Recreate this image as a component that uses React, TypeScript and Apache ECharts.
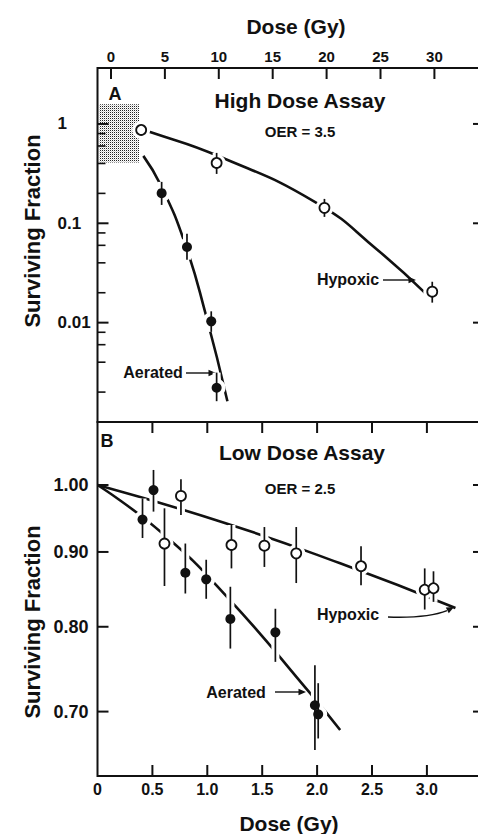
import React, { useEffect, useRef } from "react";
import * as echarts from "echarts";

// ---- Panel A: high dose assay ----
const hypoxicHighDose = [2.8, 9.8, 19.8, 29.8];
const hypoxicHighSF = [0.87, 0.405, 0.143, 0.0205];
const hypoxicHighLo = [null, 0.314, 0.116, 0.0159];
const hypoxicHighHi = [null, 0.511, 0.176, 0.0258];

const aeratedHighDose = [4.7, 7.05, 9.3, 9.8];
const aeratedHighSF = [0.201, 0.0577, 0.0103, 0.00221];
const aeratedHighLo = [0.153, 0.043, 0.00807, 0.00162];
const aeratedHighHi = [0.261, 0.0784, 0.013, 0.00314];

// fitted survival curves
const hypoxicHighFitDose = [2.8, 3.7, 10.0, 19.1, 24.7, 29.2];
const hypoxicHighFitSF = [0.87, 0.825, 0.473, 0.16, 0.0542, 0.0196];
const aeratedHighFitDose = [3.0, 4.6, 6.8, 8.8, 10.8];
const aeratedHighFitSF = [0.477, 0.244, 0.0656, 0.012, 0.00162];

// region covered by the low dose assay
const lowAssayBoxDose = [-1.1, 2.6];
const lowAssayBoxSF = [0.408, 1.58];

// ---- Panel B: low dose assay ----
const aeratedLowDose = [0.41, 0.51, 0.8, 0.99, 1.21, 1.62, 1.98, 2.01];
const aeratedLowSF = [0.947, 0.992, 0.871, 0.862, 0.81, 0.793, 0.707, 0.697];
const aeratedLowLo = [0.92, 0.959, 0.843, 0.836, 0.773, 0.757, 0.659, 0.671];
const aeratedLowHi = [0.979, 1.024, 0.912, 0.889, 0.852, 0.823, 0.753, 0.732];

const hypoxicLowDose = [0.61, 0.76, 1.22, 1.52, 1.81, 2.4, 2.98, 3.06];
const hypoxicLowSF = [0.912, 0.983, 0.91, 0.909, 0.898, 0.88, 0.848, 0.85];
const hypoxicLowLo = [0.853, 0.954, 0.877, 0.879, 0.857, 0.854, 0.822, 0.832];
const hypoxicLowHi = [0.964, 1.009, 0.939, 0.936, 0.936, 0.908, 0.877, 0.873];

const hypoxicLowFitDose = [0, 1.16, 2.21, 3.26];
const hypoxicLowFitSF = [1.0, 0.942, 0.884, 0.824];
const aeratedLowFitDose = [0, 0.59, 1.19, 1.94, 2.21];
const aeratedLowFitSF = [1.0, 0.927, 0.837, 0.72, 0.68];

// ---- axes ----
const highDoseRange = [-1.25, 34.6];
const highDoseTicks = [0, 5, 10, 15, 20, 25, 30];
const highSFRange = [0.001, 3.656];
const highSFTicks = [1, 0.1, 0.01];
const highSFTickLabels = ["1", "0.1", "0.01"];
const highSFMinorTicks = [0.8, 0.6, 0.4, 0.2, 0.08, 0.06, 0.04, 0.02, 0.008, 0.006, 0.004, 0.002];

const lowDoseRange = [0, 3.52];
const lowDoseTicks = [0, 0.5, 1, 1.5, 2, 2.5, 3];
const lowDoseTickLabels = ["0", "0.5", "1.0", "1.5", "2.0", "2.5", "3.0"];
const lowSFRange = [0.6325, 1.1043];
const lowSFTicks = [1.0, 0.9, 0.8, 0.7];
const lowSFTickLabels = ["1.00", "0.90", "0.80", "0.70"];

const FONT = '"Liberation Sans", Arial, Helvetica, sans-serif';
const INK = "#111";

// surviving fraction is plotted on log10 scales
const lg = (v: number) => Math.log10(v);

const pickLabel = (ticks: number[], labels: string[], map: (v: number) => number) => (value: number) => {
  const i = ticks.findIndex((t) => Math.abs(map(t) - value) < 1e-6);
  return i >= 0 ? labels[i] : "";
};

const points = (xs: number[], ys: number[]) => xs.map((x, i) => [x, lg(ys[i])]);
const bars = (xs: number[], lo: (number | null)[], hi: (number | null)[]) =>
  xs
    .map((x, i) => (lo[i] == null ? null : [x, lg(lo[i] as number), lg(hi[i] as number)]))
    .filter((d) => d !== null);

function axis(extra: any, label: any) {
  return {
    type: "value",
    axisLine: { show: false, onZero: false },
    axisTick: { show: false },
    splitLine: { show: false },
    axisLabel: { color: INK, fontFamily: FONT, fontWeight: "bold", ...label },
    ...extra,
  };
}

// inward tick marks along one edge of a panel, placed through the axis scales
function tickSeries(
  xi: number,
  yi: number,
  side: "left" | "right" | "top" | "bottom",
  data: number[][],
  len: number,
  width: number
) {
  return {
    type: "custom",
    xAxisIndex: xi,
    yAxisIndex: yi,
    z: 7,
    silent: true,
    clip: false,
    data,
    renderItem: (params: any, api: any) => {
      const cs = params.coordSys;
      const p = api.coord([api.value(0), api.value(1)]);
      const h = width / 2;
      let shape;
      if (side === "left") shape = { x: cs.x, y: p[1] - h, width: len, height: width };
      else if (side === "right") shape = { x: cs.x + cs.width - len, y: p[1] - h, width: len, height: width };
      else if (side === "top") shape = { x: p[0] - h, y: cs.y, width, height: len };
      else shape = { x: p[0] - h, y: cs.y + cs.height - len, width, height: len };
      return { type: "rect", shape, style: { fill: INK } };
    },
  };
}

function barSeries(xi: number, yi: number, data: any[], color: string, width: number, z: number) {
  return {
    type: "custom",
    xAxisIndex: xi,
    yAxisIndex: yi,
    z,
    silent: true,
    data,
    encode: { x: 0, y: [1, 2] },
    renderItem: (_p: any, api: any) => {
      const a = api.coord([api.value(0), api.value(1)]);
      const b = api.coord([api.value(0), api.value(2)]);
      return {
        type: "line",
        shape: { x1: a[0], y1: a[1], x2: b[0], y2: b[1] },
        style: { stroke: color, lineWidth: width },
      };
    },
  };
}

function fitSeries(xi: number, yi: number, data: number[][]) {
  return {
    type: "line",
    xAxisIndex: xi,
    yAxisIndex: yi,
    data,
    smooth: true,
    showSymbol: false,
    symbol: "none",
    silent: true,
    z: 1,
    lineStyle: { color: INK, width: 2.6 },
  };
}

function haloSeries(xi: number, yi: number, data: number[][]) {
  return {
    type: "scatter",
    xAxisIndex: xi,
    yAxisIndex: yi,
    data,
    symbol: "circle",
    symbolSize: 18,
    silent: true,
    z: 3,
    itemStyle: { color: "#fff", opacity: 1 },
  };
}

function markerSeries(xi: number, yi: number, data: number[][], open: boolean) {
  return {
    type: "scatter",
    xAxisIndex: xi,
    yAxisIndex: yi,
    data,
    symbol: "circle",
    symbolSize: 10,
    silent: true,
    z: 6,
    itemStyle: open
      ? { color: "#fff", borderColor: INK, borderWidth: 1.8, opacity: 1 }
      : { color: INK, opacity: 1 },
  };
}

function text(x: number, y: number, s: string, size: number, extra: any = {}) {
  return {
    type: "text",
    x,
    y,
    silent: true,
    ...extra,
    style: {
      text: s,
      fill: INK,
      font: `bold ${size}px ${FONT}`,
      textAlign: "center",
      textVerticalAlign: "middle",
    },
  };
}

function arrowHead(tip: number[], dir: number[], len = 7.5, half = 3.3) {
  const n = Math.hypot(dir[0], dir[1]);
  const d = [dir[0] / n, dir[1] / n];
  const b = [tip[0] - d[0] * len, tip[1] - d[1] * len];
  const p = [-d[1], d[0]];
  return {
    type: "polygon",
    silent: true,
    shape: {
      points: [tip, [b[0] + p[0] * half, b[1] + p[1] * half], [b[0] - p[0] * half, b[1] - p[1] * half]],
    },
    style: { fill: INK },
  };
}

function straightArrow(x1: number, x2: number, y: number) {
  return [
    { type: "line", silent: true, shape: { x1, y1: y, x2: x2 - 5, y2: y }, style: { stroke: INK, lineWidth: 1.4 } },
    arrowHead([x2, y], [1, 0]),
  ];
}

export default function App() {
  const ref = useRef<HTMLDivElement>(null);

  useEffect(() => {
    if (!ref.current) return;

    // stippled fill for the low-dose region
    const tile = document.createElement("canvas");
    tile.width = 2;
    tile.height = 2;
    const ctx = tile.getContext("2d");
    if (ctx) {
      ctx.fillStyle = "#fff";
      ctx.fillRect(0, 0, 2, 2);
      ctx.fillStyle = "#222";
      ctx.fillRect(0, 0, 1, 1);
      ctx.fillStyle = "#d0d0d0";
      ctx.fillRect(1, 1, 1, 1);
    }
    const stipple = { image: tile, repeat: "repeat", imageWidth: 2, imageHeight: 2 };

    const chart = echarts.init(ref.current, null, { renderer: "svg" });

    const gridBase = {
      left: 97.5,
      width: 386.5,
      height: 354,
      show: true,
      borderColor: INK,
      borderWidth: 2,
      backgroundColor: "transparent",
      containLabel: false,
      outerBoundsMode: "none",
    };

    const highYMin = lg(highSFRange[0]);
    const highYMax = lg(highSFRange[1]);
    const lowYMin = lg(lowSFRange[0]);
    const lowYMax = lg(lowSFRange[1]);
    const lowDoseInner = lowDoseTicks.filter((v) => v > 0);

    // tick positions, expressed as data points on each panel
    const hx = highDoseRange[0];
    const highMajorY = highSFTicks.map((v) => [hx, lg(v)]);
    const highMinorY = highSFMinorTicks.map((v) => [hx, lg(v)]);
    const highTopX = highDoseTicks.map((v) => [v, highYMin]);
    const lowY = lowSFTicks.map((v) => [lowDoseRange[0], lg(v)]);
    const lowX = lowDoseInner.map((v) => [v, lowYMin]);

    const option: any = {
      animation: false,
      textStyle: { fontFamily: FONT },
      grid: [
        { ...gridBase, top: 68 },
        { ...gridBase, top: 422 },
      ],
      xAxis: [
        axis(
          { gridIndex: 0, position: "top", min: highDoseRange[0], max: highDoseRange[1] },
          { customValues: highDoseTicks.slice(), fontSize: 15, margin: 4, formatter: (v: number) => String(v) }
        ),
        axis(
          { gridIndex: 1, position: "bottom", min: lowDoseRange[0], max: lowDoseRange[1] },
          {
            customValues: lowDoseTicks.slice(),
            fontSize: 16,
            margin: 5,
            formatter: pickLabel(lowDoseTicks, lowDoseTickLabels, (v) => v),
          }
        ),
      ],
      yAxis: [
        axis(
          { gridIndex: 0, position: "left", min: highYMin, max: highYMax },
          {
            customValues: highSFTicks.map(lg),
            fontSize: 17,
            align: "left",
            margin: 40,
            formatter: pickLabel(highSFTicks, highSFTickLabels, lg),
          }
        ),
        axis(
          { gridIndex: 1, position: "left", min: lowYMin, max: lowYMax },
          {
            customValues: lowSFTicks.map(lg),
            fontSize: 18,
            align: "left",
            margin: 44,
            formatter: pickLabel(lowSFTicks, lowSFTickLabels, lg),
          }
        ),
      ],
      series: [
        // Panel A
        {
          type: "custom",
          xAxisIndex: 0,
          yAxisIndex: 0,
          z: -1,
          silent: true,
          data: [[lowAssayBoxDose[0], lg(lowAssayBoxSF[0]), lowAssayBoxDose[1], lg(lowAssayBoxSF[1])]],
          encode: { x: [0, 2], y: [1, 3] },
          renderItem: (_p: any, api: any) => {
            const a = api.coord([api.value(0), api.value(3)]);
            const b = api.coord([api.value(2), api.value(1)]);
            return {
              type: "rect",
              shape: { x: a[0], y: a[1], width: b[0] - a[0], height: b[1] - a[1] },
              style: { fill: stipple },
            };
          },
        },
        tickSeries(0, 0, "left", highMajorY, 11, 2),
        tickSeries(0, 0, "left", highMinorY, 8, 1.6),
        tickSeries(0, 0, "right", highMajorY, 11, 2),
        tickSeries(0, 0, "top", highTopX, 11, 2),

        fitSeries(0, 0, points(hypoxicHighFitDose, hypoxicHighFitSF)),
        fitSeries(0, 0, points(aeratedHighFitDose, aeratedHighFitSF)),
        barSeries(0, 0, bars(hypoxicHighDose, hypoxicHighLo, hypoxicHighHi), "#fff", 8, 2),
        barSeries(0, 0, bars(aeratedHighDose, aeratedHighLo, aeratedHighHi), "#fff", 8, 2),
        haloSeries(0, 0, points(hypoxicHighDose, hypoxicHighSF)),
        haloSeries(0, 0, points(aeratedHighDose, aeratedHighSF)),
        barSeries(0, 0, bars(hypoxicHighDose, hypoxicHighLo, hypoxicHighHi), INK, 1.7, 5),
        barSeries(0, 0, bars(aeratedHighDose, aeratedHighLo, aeratedHighHi), INK, 1.7, 5),
        markerSeries(0, 0, points(aeratedHighDose, aeratedHighSF), false),
        markerSeries(0, 0, points(hypoxicHighDose, hypoxicHighSF), true),

        // Panel B
        tickSeries(1, 1, "left", lowY, 11, 2),
        tickSeries(1, 1, "right", lowY, 11, 2),
        tickSeries(1, 1, "top", lowX, 11, 2),
        tickSeries(1, 1, "bottom", lowX, 11, 2),

        fitSeries(1, 1, points(hypoxicLowFitDose, hypoxicLowFitSF)),
        fitSeries(1, 1, points(aeratedLowFitDose, aeratedLowFitSF)),
        barSeries(1, 1, bars(hypoxicLowDose, hypoxicLowLo, hypoxicLowHi), "#fff", 8, 2),
        barSeries(1, 1, bars(aeratedLowDose, aeratedLowLo, aeratedLowHi), "#fff", 8, 2),
        haloSeries(1, 1, points(hypoxicLowDose, hypoxicLowSF)),
        haloSeries(1, 1, points(aeratedLowDose, aeratedLowSF)),
        barSeries(1, 1, bars(hypoxicLowDose, hypoxicLowLo, hypoxicLowHi), INK, 1.7, 5),
        barSeries(1, 1, bars(aeratedLowDose, aeratedLowLo, aeratedLowHi), INK, 1.7, 5),
        markerSeries(1, 1, points(aeratedLowDose, aeratedLowSF), false),
        markerSeries(1, 1, points(hypoxicLowDose, hypoxicLowSF), true),
      ],
      graphic: [
        text(296, 26, "Dose (Gy)", 21),
        text(289, 823, "Dose (Gy)", 21),
        text(32, 231, "Surviving Fraction", 22, { rotation: Math.PI / 2 }),
        text(32, 622, "Surviving Fraction", 22, { rotation: Math.PI / 2 }),

        text(115, 94, "A", 18),
        text(300, 100, "High Dose Assay", 21),
        text(300, 131, "OER = 3.5", 15),
        text(348, 279, "Hypoxic", 16),
        ...straightArrow(383, 416, 280),
        text(153, 372, "Aerated", 16),
        ...straightArrow(186, 216, 373),

        text(107, 441, "B", 18),
        text(302, 452, "Low Dose Assay", 21),
        text(300, 488, "OER = 2.5", 15),
        text(348, 614, "Hypoxic", 16),
        {
          type: "bezierCurve",
          silent: true,
          shape: { x1: 388, y1: 617, cpx1: 418, cpy1: 618, cpx2: 436, cpy2: 615, x2: 447, y2: 610.6 },
          style: { stroke: INK, lineWidth: 1.4, fill: null },
        },
        arrowHead([454, 607], [8, -4]),
        text(236, 692, "Aerated", 16),
        ...straightArrow(275, 306, 692),
      ],
    };

    chart.setOption(option);
    return () => chart.dispose();
  }, []);

  return (
    <div
      ref={ref}
      style={{ position: "absolute", left: 0, top: 0, width: 478, height: 834, background: "#fff" }}
    />
  );
}
